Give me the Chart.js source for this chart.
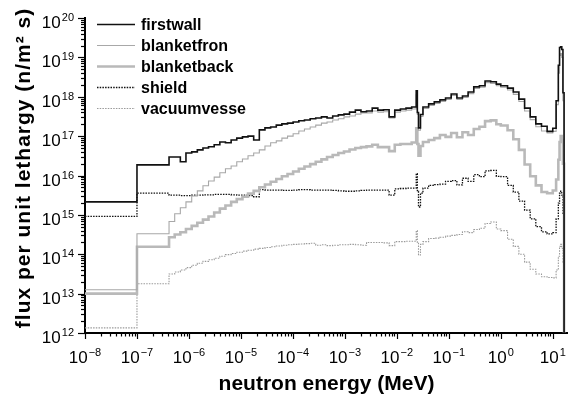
<!DOCTYPE html>
<html>
<head>
<meta charset="utf-8">
<title>flux per unit lethargy</title>
<script src="https://cdn.jsdelivr.net/npm/chart.js@4"></script>
<style>
  html, body { margin: 0; padding: 0; background: #fff; }
  #caixa { width: 568px; height: 398px; }
</style>
</head>
<body>
<div id="caixa"><canvas id="graficoFluxo" width="568" height="398"></canvas></div>
<script>
// Limites dos grupos de energia (MeV): borda inferior de cada grupo + borda final
const energyEdges = [
  1e-8, 1e-7, 4.14e-7, 5.32e-7, 6.83e-7, 8.76e-7, 1.13e-6, 1.45e-6, 1.86e-6, 2.38e-6,
  3.06e-6, 3.93e-6, 5.04e-6, 6.48e-6, 8.32e-6, 1.07e-5, 1.37e-5, 1.76e-5, 2.26e-5, 2.90e-5,
  3.73e-5, 4.79e-5, 6.14e-5, 7.89e-5, 1.01e-4, 1.30e-4, 1.67e-4, 2.15e-4, 2.75e-4, 3.54e-4,
  4.54e-4, 5.83e-4, 7.49e-4, 9.61e-4, 1.23e-3, 1.59e-3, 2.04e-3, 2.61e-3, 3.36e-3, 4.31e-3,
  5.53e-3, 7.10e-3, 9.12e-3, 1.17e-2, 1.50e-2, 1.93e-2, 2.36e-2, 2.48e-2, 2.61e-2, 2.85e-2,
  3.18e-2, 4.09e-2, 5.25e-2, 6.74e-2, 8.65e-2, 1.11e-1, 1.43e-1, 1.83e-1, 2.35e-1, 3.02e-1,
  3.88e-1, 4.98e-1, 6.39e-1, 8.21e-1, 1.00, 1.35, 1.74, 2.23, 2.87, 3.68,
  4.72, 6.07, 7.79, 10.0, 11.6, 12.8, 13.5, 14.2, 14.9, 15.7,
  16.5
];

// Fluxo por grupo, guardado como log10 (n/m2 s)
const logFirstwall = [
  15.33, 16.27, 16.47, 16.47, 16.35, 16.57, 16.60, 16.65, 16.70, 16.73,
  16.78, 16.85, 16.83, 16.90, 16.95, 16.98, 17.00, 16.90, 17.16, 17.21,
  17.23, 17.28, 17.31, 17.33, 17.36, 17.39, 17.41, 17.44, 17.46, 17.49,
  17.46, 17.51, 17.54, 17.56, 17.61, 17.66, 17.62, 17.64, 17.71, 17.66,
  17.67, 17.49, 17.66, 17.69, 17.71, 17.74, 18.15, 17.60, 17.21, 17.55,
  17.74, 17.82, 17.87, 17.92, 17.97, 18.07, 17.97, 18.02, 18.12, 18.25,
  18.28, 18.40, 18.38, 18.32, 18.28, 18.22, 18.12, 17.94, 17.71, 17.49,
  17.31, 17.25, 17.12, 17.20, 17.90, 18.80, 19.25, 19.27, 19.20, 18.10
];
const logBlanketfron = [
  13.10, 14.52, 14.83, 15.03, 15.18, 15.33, 15.48, 15.61, 15.74, 15.86,
  15.96, 16.07, 16.17, 16.24, 16.35, 16.42, 16.50, 16.57, 16.65, 16.75,
  16.83, 16.88, 16.95, 17.00, 17.06, 17.13, 17.18, 17.23, 17.28, 17.33,
  17.36, 17.41, 17.44, 17.49, 17.51, 17.56, 17.59, 17.59, 17.64, 17.61,
  17.62, 17.46, 17.61, 17.64, 17.66, 17.69, 18.05, 17.55, 17.15, 17.50,
  17.70, 17.78, 17.83, 17.88, 17.93, 18.03, 17.93, 17.98, 18.08, 18.21,
  18.24, 18.36, 18.34, 18.28, 18.24, 18.17, 18.06, 17.88, 17.64, 17.42,
  17.24, 17.13, 17.08, 17.12, 17.80, 18.60, 19.05, 19.10, 19.00, 17.90
];
const logBlanketback = [
  13.00, 14.19, 14.43, 14.50, 14.56, 14.64, 14.72, 14.80, 14.88, 14.96,
  15.06, 15.16, 15.24, 15.33, 15.40, 15.46, 15.54, 15.61, 15.70, 15.77,
  15.84, 15.91, 15.98, 16.04, 16.10, 16.17, 16.23, 16.29, 16.35, 16.41,
  16.47, 16.52, 16.57, 16.61, 16.66, 16.70, 16.72, 16.74, 16.78, 16.72,
  16.72, 16.62, 16.78, 16.80, 16.80, 16.84, 17.20, 16.80, 16.50, 16.75,
  16.85, 16.90, 16.95, 17.03, 16.98, 17.08, 16.97, 17.10, 17.03, 17.18,
  17.24, 17.38, 17.40, 17.30, 17.27, 17.15, 16.92, 16.65, 16.28, 15.98,
  15.75, 15.58, 15.55, 15.62, 15.90, 16.40, 16.85, 17.00, 16.90, 16.30
];
const logShield = [
  14.96, 15.55, 15.50, 15.50, 15.49, 15.49, 15.50, 15.50, 15.51, 15.51,
  15.52, 15.52, 15.52, 15.51, 15.50, 15.50, 15.49, 15.46, 15.64, 15.63,
  15.63, 15.63, 15.62, 15.62, 15.63, 15.64, 15.64, 15.63, 15.63, 15.63,
  15.63, 15.62, 15.61, 15.60, 15.60, 15.61, 15.62, 15.63, 15.63, 15.63,
  15.63, 15.50, 15.66, 15.67, 15.68, 15.68, 16.05, 15.60, 15.20, 15.55,
  15.68, 15.75, 15.77, 15.78, 15.85, 15.87, 15.76, 15.93, 15.85, 16.02,
  15.97, 16.12, 16.13, 15.98, 15.97, 15.75, 15.58, 15.35, 15.12, 14.90,
  14.70, 14.57, 14.52, 14.55, 14.90, 15.30, 15.55, 15.60, 15.50, 15.00
];
const logVacuumvesse = [
  12.13, 13.25, 13.50, 13.55, 13.60, 13.66, 13.72, 13.77, 13.82, 13.86,
  13.90, 13.95, 13.99, 14.02, 14.05, 14.08, 14.10, 14.13, 14.15, 14.17,
  14.19, 14.21, 14.23, 14.24, 14.25, 14.26, 14.27, 14.28, 14.23, 14.24,
  14.22, 14.23, 14.24, 14.24, 14.25, 14.24, 14.23, 14.30, 14.30, 14.30,
  14.29, 14.22, 14.32, 14.32, 14.33, 14.33, 14.60, 14.30, 13.98, 14.25,
  14.32, 14.40, 14.41, 14.43, 14.46, 14.48, 14.50, 14.57, 14.55, 14.63,
  14.66, 14.78, 14.82, 14.64, 14.60, 14.38, 14.20, 14.00, 13.80, 13.62,
  13.50, 13.43, 13.41, 13.40, 13.60, 13.95, 14.20, 14.25, 14.15, 13.80
];

// Expoentes das marcas principais dos eixos
const xTickExps = [-8, -7, -6, -5, -4, -3, -2, -1, 0, 1];
const yTickExps = [12, 13, 14, 15, 16, 17, 18, 19, 20];

const FONTE = '"Liberation Sans", Arial, Helvetica, sans-serif';

// Transforma os grupos em pontos do histograma (degrau) e fecha caindo a zero
function montarPontos(logs) {
  const pts = logs.map((v, i) => ({ x: energyEdges[i], y: Math.pow(10, v) }));
  pts.push({ x: energyEdges[logs.length], y: 1e8 });
  return pts;
}

// Escreve "10" com o expoente em sobrescrito
function escreverPotencia(ctx, exp, x, y, alinhamento) {
  const base = '10';
  const sup = String(exp).replace('-', '\u2212');
  ctx.font = '17px ' + FONTE;
  const wb = ctx.measureText(base).width;
  ctx.font = '11px ' + FONTE;
  const ws = ctx.measureText(sup).width;
  const total = wb + ws + 1;
  const x0 = alinhamento === 'center' ? x - total / 2 : x - total;
  ctx.textAlign = 'left';
  ctx.textBaseline = 'alphabetic';
  ctx.font = '17px ' + FONTE;
  ctx.fillText(base, x0, y);
  ctx.font = '11px ' + FONTE;
  ctx.fillText(sup, x0 + wb + 1, y - 7);
}

// Marcas, rótulos, títulos e legenda desenhados sobre as escalas do Chart.js
const eixosPlugin = {
  id: 'eixosLog',
  afterDraw(chart) {
    const ctx = chart.ctx;
    const xs = chart.scales.x;
    const ys = chart.scales.y;
    const area = chart.chartArea;
    ctx.save();
    ctx.strokeStyle = '#000';
    ctx.fillStyle = '#000';
    ctx.lineWidth = 1.2;

    // marcas do eixo x (para fora, para baixo)
    xTickExps.forEach(d => {
      for (let k = 1; k <= 9; k++) {
        const v = k * Math.pow(10, d);
        if (v < xs.min || v > xs.max) continue;
        const px = Math.round(xs.getPixelForValue(v)) + 0.5;
        const len = k === 1 ? 6 : 3.5;
        ctx.beginPath();
        ctx.moveTo(px, area.bottom);
        ctx.lineTo(px, area.bottom + len);
        ctx.stroke();
      }
    });
    // marcas do eixo y (para fora, para a esquerda)
    yTickExps.forEach(d => {
      for (let k = 1; k <= 9; k++) {
        const v = k * Math.pow(10, d);
        if (v < ys.min || v > ys.max) continue;
        const py = Math.round(ys.getPixelForValue(v)) + 0.5;
        const len = k === 1 ? 7 : 4;
        ctx.beginPath();
        ctx.moveTo(area.left, py);
        ctx.lineTo(area.left - len, py);
        ctx.stroke();
      }
    });

    // rótulos
    xTickExps.forEach(d => {
      escreverPotencia(ctx, d, xs.getPixelForValue(Math.pow(10, d)), area.bottom + 30, 'center');
    });
    yTickExps.forEach(d => {
      escreverPotencia(ctx, d, area.left - 11, ys.getPixelForValue(Math.pow(10, d)) + 10, 'right');
    });

    // títulos dos eixos
    ctx.font = 'bold 21px ' + FONTE;
    ctx.textAlign = 'center';
    ctx.textBaseline = 'alphabetic';
    ctx.fillText('neutron energy (MeV)', (area.left + area.right) / 2, 390);
    ctx.save();
    ctx.translate(30, 168);
    ctx.rotate(-Math.PI / 2);
    ctx.letterSpacing = '1px';
    ctx.fillText('flux per unit lethargy (n/m\u00B2 s)', 0, 0);
    ctx.restore();

    // legenda
    ctx.textAlign = 'left';
    ctx.textBaseline = 'middle';
    ctx.font = 'bold 16px ' + FONTE;
    chart.data.datasets.forEach((ds, i) => {
      const y = 24.5 + i * 21;
      ctx.save();
      ctx.strokeStyle = ds.borderColor;
      ctx.lineWidth = ds.borderWidth;
      ctx.setLineDash(ds.borderDash || []);
      ctx.beginPath();
      ctx.moveTo(97, y);
      ctx.lineTo(135, y);
      ctx.stroke();
      ctx.restore();
      ctx.fillText(ds.label, 141, y + 1);
    });
    ctx.restore();
  }
};

const ctx = document.getElementById('graficoFluxo').getContext('2d');

new Chart(ctx, {
  type: 'line',
  data: {
    datasets: [
      { label: 'firstwall', data: montarPontos(logFirstwall), borderColor: '#111', borderWidth: 1.6 },
      { label: 'blanketfron', data: montarPontos(logBlanketfron), borderColor: '#a8a8a8', borderWidth: 1.1 },
      { label: 'blanketback', data: montarPontos(logBlanketback), borderColor: '#b9b9b9', borderWidth: 2.6 },
      { label: 'shield', data: montarPontos(logShield), borderColor: '#111', borderWidth: 1.3, borderDash: [1.5, 1.2] },
      { label: 'vacuumvesse', data: montarPontos(logVacuumvesse), borderColor: '#9a9a9a', borderWidth: 1.1, borderDash: [1.5, 1.2] }
    ].map(ds => Object.assign({ stepped: true, pointRadius: 0, fill: false, tension: 0 }, ds))
  },
  options: {
    responsive: false,
    animation: false,
    devicePixelRatio: 1,
    layout: { padding: { left: 85, top: 18, right: 0, bottom: 65 } },
    plugins: { legend: { display: false }, tooltip: { enabled: false } },
    scales: {
      x: {
        type: 'logarithmic', min: 1e-8, max: 19.64,
        ticks: { display: false },
        grid: { display: false, drawTicks: false },
        border: { display: true, color: '#000', width: 2 }
      },
      y: {
        type: 'logarithmic', min: 1e12, max: 1e20,
        ticks: { display: false },
        grid: { display: false, drawTicks: false },
        border: { display: true, color: '#000', width: 2 }
      }
    }
  },
  plugins: [eixosPlugin]
});
</script>
</body>
</html>
